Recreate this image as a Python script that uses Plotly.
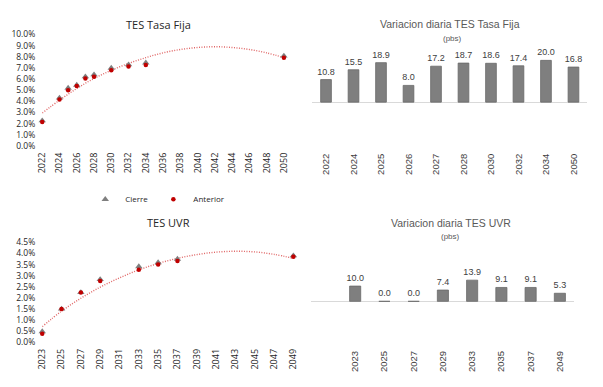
import plotly.graph_objects as go

# ---------------- data ----------------
fija_years = [2022, 2024, 2025, 2026, 2027, 2028, 2030, 2032, 2034, 2050]
fija_anterior = [2.15, 4.16, 5.00, 5.38, 6.04, 6.20, 6.80, 7.12, 7.26, 7.90]
fija_cierre = [2.26, 4.31, 5.19, 5.46, 6.21, 6.39, 6.99, 7.29, 7.46, 8.07]
fija_var = [10.8, 15.5, 18.9, 8.0, 17.2, 18.7, 18.6, 17.4, 20.0, 16.8]
fija_trend_x = [2022, 2024, 2026, 2028, 2030, 2032, 2034, 2036, 2038, 2040, 2042, 2044, 2046, 2048, 2050]
fija_trend_y = [2.95, 4.10, 5.15, 6.05, 6.78, 7.40, 7.92, 8.35, 8.65, 8.83, 8.90, 8.83, 8.65, 8.35, 7.92]
fija_ticks = [2022, 2024, 2026, 2028, 2030, 2032, 2034, 2036, 2038, 2040, 2042, 2044, 2046, 2048, 2050]
fija_pct_ticks = [0, 1, 2, 3, 4, 5, 6, 7, 8, 9, 10]
fija_pct_labels = ["0.0%", "1.0%", "2.0%", "3.0%", "4.0%", "5.0%", "6.0%", "7.0%", "8.0%", "9.0%", "10.0%"]

uvr_years = [2023, 2025, 2027, 2029, 2033, 2035, 2037, 2049]
uvr_anterior = [0.38, 1.50, 2.24, 2.76, 3.27, 3.50, 3.66, 3.85]
uvr_cierre = [0.48, 1.50, 2.24, 2.83, 3.41, 3.59, 3.75, 3.90]
uvr_var = [10.0, 0.0, 0.0, 7.4, 13.9, 9.1, 9.1, 5.3]
uvr_trend_x = [2023, 2025, 2027, 2029, 2031, 2033, 2035, 2037, 2039, 2041, 2043, 2045, 2047, 2049]
uvr_trend_y = [0.70, 1.40, 1.98, 2.48, 2.90, 3.26, 3.55, 3.78, 3.95, 4.06, 4.10, 4.07, 3.96, 3.78]
uvr_ticks = [2023, 2025, 2027, 2029, 2031, 2033, 2035, 2037, 2039, 2041, 2043, 2045, 2047, 2049]
uvr_pct_ticks = [0, 0.5, 1, 1.5, 2, 2.5, 3, 3.5, 4, 4.5]
uvr_pct_labels = ["0.0%", "0.5%", "1.0%", "1.5%", "2.0%", "2.5%", "3.0%", "3.5%", "4.0%", "4.5%"]

W, H = 603, 387
def px_x(v):
    return v / W
def px_y(v):
    return 1 - v / H

LEFT_FONT = "Open Sans"
BAR_FONT = "Liberation Sans"
GRAY = "#7f7f7f"
RED = "#c00000"
TREND = "#e06666"

fig = go.Figure()

# ---- top-left: TES Tasa Fija ----
fig.add_trace(go.Scatter(x=fija_trend_x, y=fija_trend_y, mode="lines",
                         line=dict(color=TREND, width=1.4, dash="1px,1.5px", shape="spline"),
                         showlegend=False, hoverinfo="skip", xaxis="x", yaxis="y", cliponaxis=False))
fig.add_trace(go.Scatter(x=fija_years, y=fija_cierre, mode="markers", name="Cierre",
                         marker=dict(symbol="triangle-up", size=6.5, color=GRAY), xaxis="x", yaxis="y", cliponaxis=False))
fig.add_trace(go.Scatter(x=fija_years, y=fija_anterior, mode="markers", name="Anterior",
                         marker=dict(symbol="circle", size=4.5, color=RED), xaxis="x", yaxis="y", cliponaxis=False))

# ---- bottom-left: TES UVR ----
fig.add_trace(go.Scatter(x=uvr_trend_x, y=uvr_trend_y, mode="lines",
                         line=dict(color=TREND, width=1.4, dash="1px,1.5px", shape="spline"),
                         showlegend=False, hoverinfo="skip", xaxis="x3", yaxis="y3", cliponaxis=False))
fig.add_trace(go.Scatter(x=uvr_years, y=uvr_cierre, mode="markers", name="Cierre", showlegend=False,
                         marker=dict(symbol="triangle-up", size=6.5, color=GRAY), xaxis="x3", yaxis="y3", cliponaxis=False))
fig.add_trace(go.Scatter(x=uvr_years, y=uvr_anterior, mode="markers", name="Anterior", showlegend=False,
                         marker=dict(symbol="circle", size=4.5, color=RED), xaxis="x3", yaxis="y3", cliponaxis=False))

# ---- top-right bars ----
fig.add_trace(go.Bar(x=[str(v) for v in fija_years], y=fija_var, width=0.39,
                     marker=dict(color=GRAY, line=dict(color="#6a6a6a", width=0.8)),
                     texttemplate="%{y:.1f}", textposition="outside", cliponaxis=False, constraintext="none",
                     textfont=dict(family=BAR_FONT, size=9, color="#404040"),
                     showlegend=False, xaxis="x2", yaxis="y2"))

# ---- bottom-right bars ----
fig.add_trace(go.Bar(x=[str(v) for v in uvr_years], y=uvr_var, width=0.38,
                     marker=dict(color=GRAY, line=dict(color="#6a6a6a", width=0.8)),
                     texttemplate="%{y:.1f}", textposition="outside", cliponaxis=False, constraintext="none",
                     textfont=dict(family=BAR_FONT, size=9, color="#404040"),
                     showlegend=False, xaxis="x4", yaxis="y4"))

left_ytick_font = dict(family=LEFT_FONT, size=8.5, color="#262626")
left_xtick_font = dict(family=LEFT_FONT, size=9, color="#262626")
bar_tick_font = dict(family=BAR_FONT, size=9.5, color="#404040")

fig.update_layout(
    width=W, height=H,
    margin=dict(l=0, r=0, t=0, b=0),
    paper_bgcolor="white", plot_bgcolor="white",
    showlegend=True,
    legend=dict(orientation="h", x=px_x(80), xanchor="left", y=px_y(199), yanchor="middle",
                font=dict(family=LEFT_FONT, size=8, color="#262626"), bgcolor="rgba(0,0,0,0)",
                itemsizing="trace"),
    xaxis=dict(domain=[px_x(36), px_x(283)], range=[2022, 2050], tickmode="array", tickvals=fija_ticks,
               tickangle=-90, tickfont=left_xtick_font, showgrid=False, zeroline=False, showline=False,
               ticklabelstandoff=4, anchor="y"),
    yaxis=dict(domain=[px_y(144), px_y(29.3)], range=[0, 10], tickmode="array", tickvals=fija_pct_ticks,
               ticktext=fija_pct_labels, tickfont=left_ytick_font, showgrid=False, zeroline=False,
               showline=False, ticklabelstandoff=6, anchor="x"),
    xaxis3=dict(domain=[px_x(36), px_x(292.7)], range=[2023, 2049], tickmode="array", tickvals=uvr_ticks,
                tickangle=-90, tickfont=left_xtick_font, showgrid=False, zeroline=False, showline=False,
                ticklabelstandoff=4, anchor="y3"),
    yaxis3=dict(domain=[px_y(346), px_y(243.3)], range=[0, 4.5], tickmode="array", tickvals=uvr_pct_ticks,
                ticktext=uvr_pct_labels, tickfont=left_ytick_font, showgrid=False, zeroline=False,
                showline=False, ticklabelstandoff=6, anchor="x3"),
    xaxis2=dict(domain=[px_x(312), px_x(593)], type="category", tickangle=-90, tickfont=bar_tick_font,
                showgrid=False, showline=False, zeroline=False, ticklabelstandoff=3, anchor="y2"),
    yaxis2=dict(domain=[px_y(146), px_y(45)], range=[-21.9, 25.1], showticklabels=False, showgrid=False,
                zeroline=True, zerolinecolor="#d9d9d9", zerolinewidth=1, showline=False, anchor="x2"),
    xaxis4=dict(domain=[px_x(311), px_x(580)], type="category", range=[-1.5, 7.5], tickangle=-90,
                tickfont=bar_tick_font, showgrid=False, showline=False, zeroline=False,
                ticklabelstandoff=3, anchor="y4"),
    yaxis4=dict(domain=[px_y(349), px_y(250)], range=[-28.7, 34.4], showticklabels=False, showgrid=False,
                zeroline=True, zerolinecolor="#d9d9d9", zerolinewidth=1, showline=False, anchor="x4"),
)

annotations = [
    dict(text="TES Tasa Fija", x=px_x(154.5), y=px_y(19.5), font=dict(family=LEFT_FONT, size=11, color="#262626")),
    dict(text="TES UVR", x=px_x(165), y=px_y(223), font=dict(family=LEFT_FONT, size=11, color="#262626")),
    dict(text="Variacion diaria TES Tasa Fija", x=px_x(453), y=px_y(19), font=dict(family=BAR_FONT, size=10.5, color="#595959")),
    dict(text="(pbs)", x=px_x(455), y=px_y(33), font=dict(family=BAR_FONT, size=8, color="#595959")),
    dict(text="Variacion diaria TES UVR", x=px_x(454), y=px_y(223), font=dict(family=BAR_FONT, size=10.5, color="#595959")),
    dict(text="(pbs)", x=px_x(453), y=px_y(237), font=dict(family=BAR_FONT, size=8, color="#595959")),
]
for a in annotations:
    a.update(xref="paper", yref="paper", xanchor="center", yanchor="middle", showarrow=False)
fig.update_layout(annotations=annotations)

fig.write_html("out.html", config={"displayModeBar": False},
               post_script="document.body.style.margin='0px';")
